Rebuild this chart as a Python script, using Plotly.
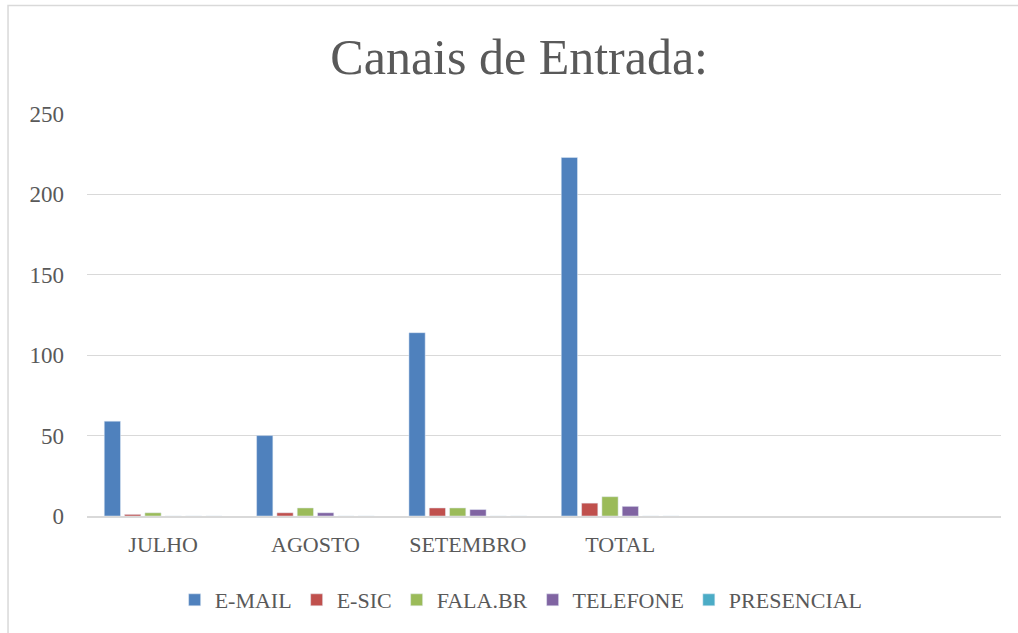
import plotly.graph_objects as go

categories = ["JULHO", "AGOSTO", "SETEMBRO", "TOTAL", " ", "  "]
series_names = ["E-MAIL", "E-SIC", "FALA.BR", "TELEFONE", "PRESENCIAL"]
email = [59, 50, 114, 223, None, None]
esic = [1, 2, 5, 8, None, None]
falabr = [2, 5, 5, 12, None, None]
telefone = [0, 2, 4, 6, None, None]
presencial = [0, 0, 0, 0, None, None]
hidden = [0, 0, 0, 0, None, None]
colors = ["#4F81BD", "#C0504D", "#9BBB59", "#8064A2", "#4BACC6"]
y_ticks = [0, 50, 100, 150, 200, 250]

FONT = "Liberation Serif"
GRAY = "#595959"

fig = go.Figure()
for name, vals, col in zip(series_names, [email, esic, falabr, telefone, presencial], colors):
    fig.add_trace(go.Bar(x=categories, y=vals, name=name, marker_color=col))
fig.add_trace(go.Bar(x=categories, y=hidden, name="", marker_color="#F79646", showlegend=False))

fig.update_layout(
    width=1018, height=633,
    paper_bgcolor="white", plot_bgcolor="white",
    margin=dict(l=87, r=17, t=114, b=117),
    barmode="group", bargap=0.2, bargroupgap=0.2,
    title=dict(text="Canais de Entrada:", x=0.51, xanchor="center", y=0.91, yanchor="middle",
               font=dict(family=FONT, size=50, color=GRAY)),
    font=dict(family=FONT, size=22, color=GRAY),
    legend=dict(orientation="h", x=0.475, xanchor="center", y=-0.209, yanchor="middle",
                font=dict(family=FONT, size=22, color=GRAY), itemwidth=30, tracegroupgap=0),
    showlegend=True,
)
fig.update_xaxes(showline=True, linecolor="#D9D9D9", linewidth=2, ticks="", showgrid=False,
                 ticklabelstandoff=8,
                 tickfont=dict(family=FONT, size=22, color=GRAY))
fig.update_yaxes(range=[0, 250], tickvals=y_ticks, showgrid=True, gridcolor="#D9D9D9", gridwidth=1,
                 zeroline=False, showline=False, ticks="", ticklabelstandoff=22,
                 tickfont=dict(family=FONT, size=23, color=GRAY))
fig.add_shape(type="rect", xref="paper", yref="paper", x0=-0.0864, x1=1.2, y0=-0.6, y1=1.27,
              line=dict(color="#D9D9D9", width=1.5), fillcolor="rgba(0,0,0,0)", layer="below")

fig.write_html("out.html", config={"displayModeBar": False},
               post_script="document.body.style.margin='0px';")
